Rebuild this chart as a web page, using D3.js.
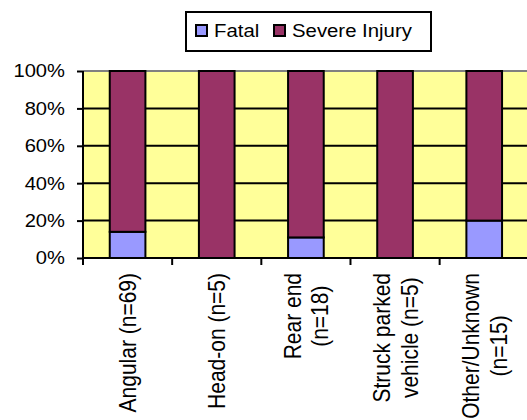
<!DOCTYPE html>
<html>
<head>
<meta charset="utf-8">
<script src="https://cdn.jsdelivr.net/npm/d3@7/dist/d3.min.js"></script>
<style>
  html, body { margin: 0; padding: 0; background: #ffffff; }
  svg { display: block; font-family: "Liberation Sans", Arial, sans-serif; }
</style>
</head>
<body>
<svg id="chart" width="527" height="420"></svg>
<script>
// Crash types (label lines) and the share of each outcome, in percent
const categories = [
  ["Angular (n=69)"],
  ["Head-on (n=5)"],
  ["Rear end", "(n=18)"],
  ["Struck parked", "vehicle (n=5)"],
  ["Other/Unknown", "(n=15)"]
];
const fatal = [14, 0, 11, 0, 20];
const severeInjury = [86, 100, 89, 100, 80];
const seriesNames = ["Fatal", "Severe Injury"];
const seriesColors = ["#9999FF", "#993366"];
const yTicks = [0, 20, 40, 60, 80, 100];

const svg = d3.select("#chart");
const plotLeft = 83, plotRight = 528.8, plotTop = 71, plotBottom = 258;

const x = d3.scaleBand()
  .domain(d3.range(categories.length))
  .range([plotLeft, plotRight])
  .paddingInner(0.6)
  .paddingOuter(0.3);
const y = d3.scaleLinear().domain([0, 100]).range([plotBottom, plotTop]);

// plot background
svg.append("rect")
  .attr("x", plotLeft).attr("y", plotTop)
  .attr("width", plotRight - plotLeft).attr("height", plotBottom - plotTop)
  .attr("fill", "#FFFF99");

// horizontal gridlines
svg.append("g").selectAll("line")
  .data(yTicks.filter(d => d > 0 && d < 100))
  .join("line")
  .attr("x1", plotLeft).attr("x2", plotRight)
  .attr("y1", d => y(d)).attr("y2", d => y(d))
  .attr("stroke", "#000").attr("stroke-width", 2);

// top border of plot area
svg.append("line")
  .attr("x1", plotLeft).attr("x2", plotRight)
  .attr("y1", y(100)).attr("y2", y(100))
  .attr("stroke", "#808080").attr("stroke-width", 2);

// stacked bars
const stackData = categories.map((c, i) => ({ i, Fatal: fatal[i], "Severe Injury": severeInjury[i] }));
const stacked = d3.stack().keys(seriesNames)(stackData);
svg.append("g").selectAll("g")
  .data(stacked)
  .join("g")
  .attr("fill", (d, k) => seriesColors[k])
  .selectAll("rect")
  .data(d => d.filter(p => p[1] - p[0] > 0))
  .join("rect")
  .attr("x", p => x(p.data.i))
  .attr("width", x.bandwidth())
  .attr("y", p => y(p[1]))
  .attr("height", p => y(p[0]) - y(p[1]))
  .attr("stroke", "#000")
  .attr("stroke-width", 2);

// y axis
const yAxis = svg.append("g").attr("transform", `translate(${plotLeft},0)`)
  .call(d3.axisLeft(y).tickValues(yTicks).tickSize(6).tickFormat(""));
yAxis.select(".domain").attr("stroke", "#000").attr("stroke-width", 2)
  .attr("d", `M0,${plotTop}V${plotBottom}`);
yAxis.selectAll(".tick line").attr("stroke", "#000").attr("stroke-width", 2);

svg.append("g").selectAll("text")
  .data(yTicks)
  .join("text")
  .attr("transform", d => `translate(65,${y(d)}) scale(1.12,1)`)
  .attr("text-anchor", "end")
  .attr("dy", "0.36em")
  .attr("font-size", 18)
  .attr("fill", "#000")
  .text(d => d + "%");

// x axis with ticks at category boundaries
const xAxis = svg.append("g");
xAxis.append("line")
  .attr("x1", plotLeft).attr("x2", plotRight)
  .attr("y1", plotBottom).attr("y2", plotBottom)
  .attr("stroke", "#000").attr("stroke-width", 2);
const step = x.step();
xAxis.selectAll(".xtick")
  .data(d3.range(categories.length + 1))
  .join("line")
  .attr("class", "xtick")
  .attr("x1", i => x(0) - step * x.paddingOuter() + i * step)
  .attr("x2", i => x(0) - step * x.paddingOuter() + i * step)
  .attr("y1", plotBottom).attr("y2", plotBottom + 7)
  .attr("stroke", "#000").attr("stroke-width", 2);

// rotated category labels
const lab = svg.append("g").selectAll("g")
  .data(categories)
  .join("g")
  .attr("transform", (d, i) => `translate(${x(i) + x.bandwidth() / 2},273) scale(1.18,1) rotate(-90)`);
lab.each(function (lines) {
  const g = d3.select(this);
  const texts = lines.map((t, j) => g.append("text")
    .attr("font-size", 21)
    .attr("fill", "#000")
    .attr("text-anchor", "middle")
    .attr("dominant-baseline", "central")
    .attr("y", (j - (lines.length - 1) / 2) * 23.5)
    .text(t));
  const maxLen = d3.max(texts, t => t.node().getComputedTextLength());
  texts.forEach(t => t.attr("x", -maxLen / 2));
});

// legend
const legend = svg.append("g");
legend.append("rect")
  .attr("x", 186).attr("y", 12).attr("width", 245).attr("height", 39)
  .attr("fill", "#fff").attr("stroke", "#000").attr("stroke-width", 2);
const legendX = [196, 274];
seriesNames.forEach((name, k) => {
  legend.append("rect")
    .attr("x", legendX[k]).attr("y", 25).attr("width", 11).attr("height", 11)
    .attr("fill", seriesColors[k]).attr("stroke", "#000").attr("stroke-width", 2);
  legend.append("text")
    .attr("transform", `translate(${legendX[k] + 18},37) scale(1.1,1)`)
    .attr("font-size", 18.5)
    .attr("fill", "#000")
    .text(name);
});
</script>
</body>
</html>
